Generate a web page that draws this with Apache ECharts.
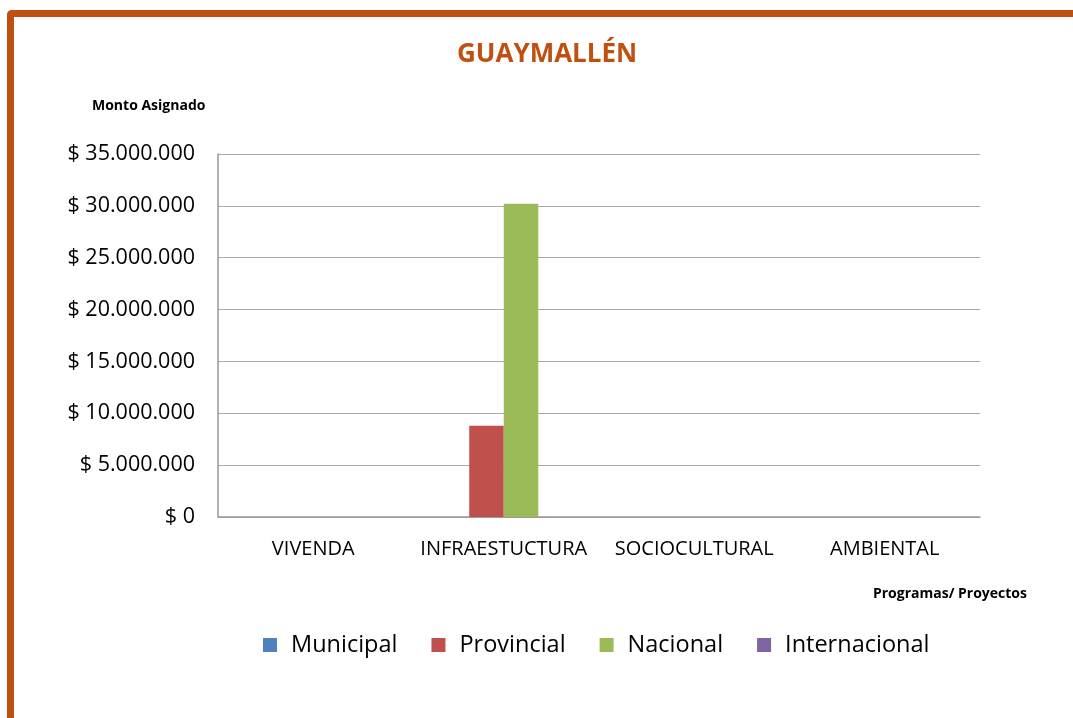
<!DOCTYPE html>
<html>
<head>
<meta charset="UTF-8">
<title>GUAYMALLÉN</title>
<script src="https://cdn.jsdelivr.net/npm/echarts@6/dist/echarts.min.js"></script>
<style>
  html, body { margin: 0; padding: 0; background: #fff; }
  #frame {
    position: absolute; left: 7px; top: 10px; width: 1080px; height: 720px;
    border-left: 7px solid #C0500F; border-top: 7px solid #C0500F;
    border-top-left-radius: 5px;
  }
  #main { position: absolute; left: 0; top: 0; width: 1073px; height: 718px; }
</style>
</head>
<body>
<div id="frame"></div>
<div id="main"></div>
<script type="text/javascript">
    // categorias y montos por fuente
    var categorias = ['VIVENDA', 'INFRAESTUCTURA', 'SOCIOCULTURAL', 'AMBIENTAL'];
    var municipal = [0, 0, 0, 0];
    var provincial = [0, 8800000, 0, 0];
    var nacional = [0, 30200000, 0, 0];
    var internacional = [0, 0, 0, 0];
    var fuentes = ['Municipal', 'Provincial', 'Nacional', 'Internacional'];
    var colores = ['#4F81BD', '#C0504D', '#9BBB59', '#8064A2'];

    var fuente = 'Open Sans';

    function formatoPesos(v) {
        var s = String(Math.round(v));
        return '$ ' + s.replace(/\B(?=(\d{3})+(?!\d))/g, '.');
    }

    var series = [municipal, provincial, nacional, internacional].map(function (d, i) {
        return {
            name: fuentes[i],
            type: 'bar',
            data: d,
            barGap: '0%',
            barCategoryGap: '27.5%',
            itemStyle: { color: colores[i] }
        };
    });

    var chart = echarts.init(document.getElementById('main'));
    chart.setOption({
        animation: false,
        color: colores,
        title: [
            {
                text: 'GUAYMALLÉN', left: 457, top: 42, padding: 0,
                textStyle: { color: '#C0500F', fontSize: 26, fontWeight: 'bold', fontFamily: fuente }
            },
            {
                text: 'Monto Asignado', left: 92, top: 99, padding: 0,
                textStyle: { color: '#000', fontSize: 14, fontWeight: 'bold', fontFamily: fuente }
            },
            {
                text: 'Programas/ Proyectos', right: 46, top: 587, padding: 0,
                textStyle: { color: '#000', fontSize: 14, fontWeight: 'bold', fontFamily: fuente }
            }
        ],
        legend: {
            data: fuentes,
            top: 628,
            left: 258,
            icon: 'rect',
            itemWidth: 14,
            itemHeight: 14,
            itemGap: 34,
            textStyle: { fontSize: 23.5, color: '#000', fontFamily: fuente, padding: [0, 0, 0, 9] }
        },
        grid: { left: 218, right: 93, top: 154, bottom: 201 },
        xAxis: {
            type: 'category',
            data: categorias,
            axisLine: { lineStyle: { color: '#999', width: 1.5 } },
            axisTick: { show: false },
            axisLabel: { color: '#000', fontSize: 20, margin: 22, interval: 0, fontFamily: fuente }
        },
        yAxis: {
            type: 'value',
            min: 0,
            max: 35000000,
            interval: 5000000,
            axisLine: { show: true, lineStyle: { color: '#999', width: 1.5 } },
            axisTick: { show: false },
            splitLine: { lineStyle: { color: '#aaa', width: 1 } },
            axisLabel: { color: '#000', fontSize: 21.5, margin: 23, fontFamily: fuente, formatter: formatoPesos }
        },
        series: series
    });
</script>
</body>
</html>
